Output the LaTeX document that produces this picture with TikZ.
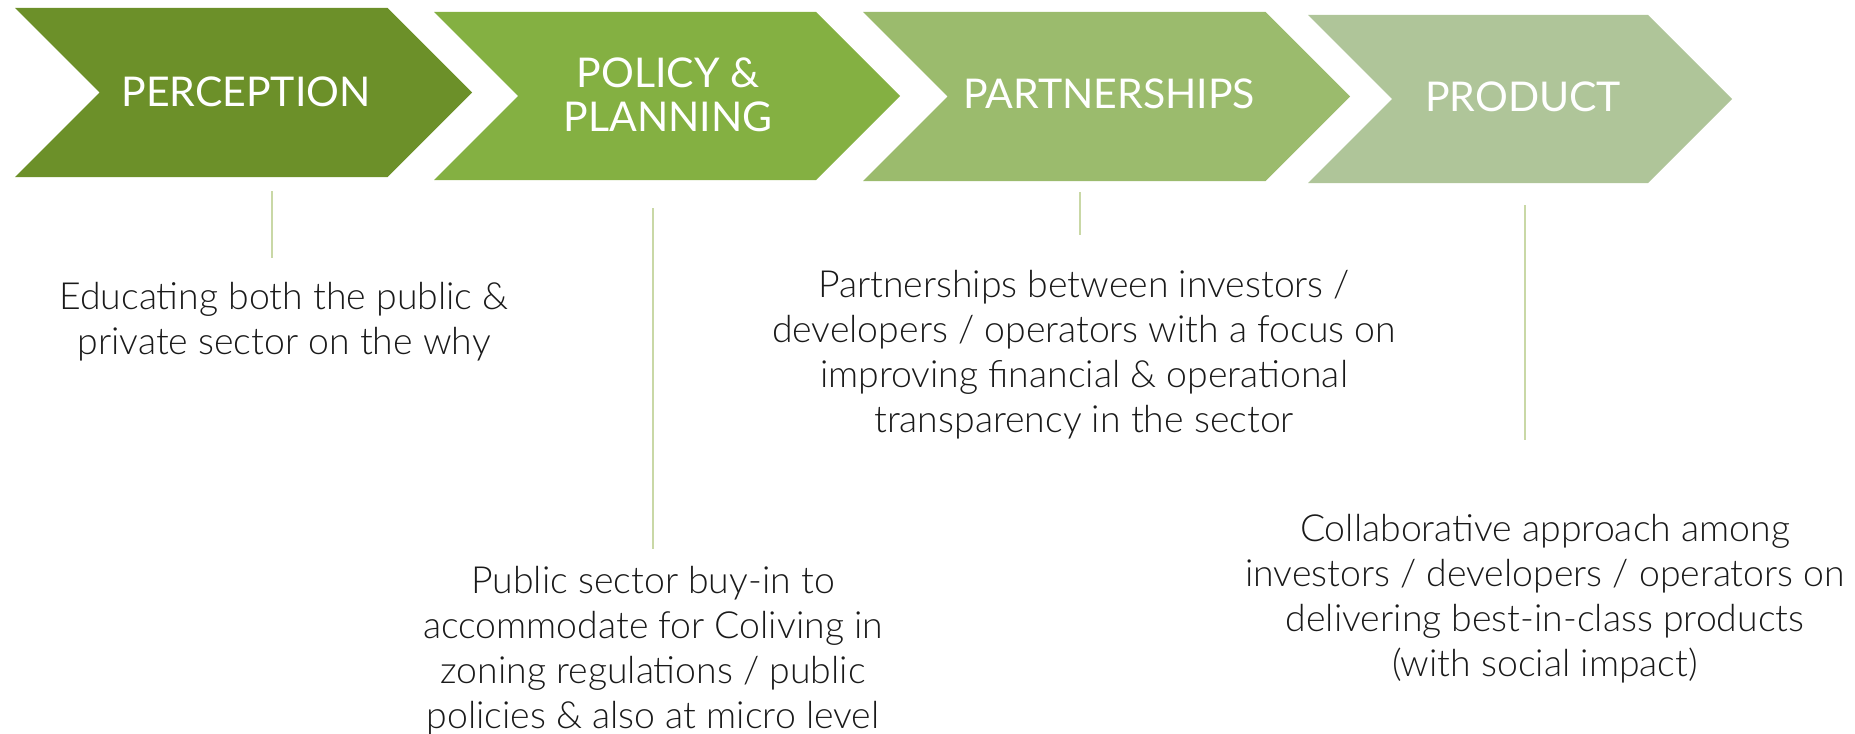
\documentclass[tikz,border=0pt]{standalone}
\usepackage{fontspec}
\setmainfont{Lato}
\newfontfamily\notefont{Lato Light}
\usetikzlibrary{positioning}

\definecolor{perceptionGreen}{HTML}{6C9029}
\definecolor{policyGreen}{HTML}{84B042}
\definecolor{partnerGreen}{HTML}{9BBB6D}
\definecolor{productGreen}{HTML}{AFC599}
\definecolor{leaderGreen}{HTML}{C9D8A6}
\definecolor{noteText}{HTML}{1A1A1A}

\begin{document}
\begin{tikzpicture}[
    x=0.5pt, y=-0.5pt,
    heading/.style={text=white, font=\fontsize{20.5}{22}\selectfont, align=center},
    note/.style={text=noteText, font=\notefont\fontsize{18.7}{22.5}\selectfont, align=center},
    leader/.style={draw=leaderGreen, line width=1pt}
]
    \useasboundingbox (0,0) rectangle (1855,733);

    % Chevrons of the four stages
    \foreach \l/\t/\b/\tip/\col in {15/8/177/472/perceptionGreen, 434/12/180/900/policyGreen,
                                     863/12/181/1350/partnerGreen, 1308/15/183/1732/productGreen} {
        \fill[\col] (\l,\t) -- ({\tip-(\b-\t)/2},\t) -- (\tip,{(\t+\b)/2}) -- ({\tip-(\b-\t)/2},\b)
            -- (\l,\b) -- ({\l+(\b-\t)/2},{(\t+\b)/2}) -- cycle;
    }

    % Stage headings
    \node[heading] (perception) at (246,92) {PERCEPTION};
    \node[heading] (policy) at (668,95) {POLICY \&\\PLANNING};
    \node[heading] (partnerships) at (1109,94) {PARTNERSHIPS};
    \node[heading] (product) at (1523,97) {PRODUCT};

    % Notes under each stage
    \node[note] (educating) at (284,322) {Educating both the public \&\\private sector on the why};
    \node[note] (buyin) at (653,651) {Public sector buy-in to\\accommodate for Coliving in\\zoning regulations / public\\policies \& also at micro level};
    \node[note] (transparency) at (1084,355) {Partnerships between investors /\\developers / operators with a focus on\\improving financial \& operational\\transparency in the sector};
    \node[note] (collab) at (1545,599) {Collaborative approach among\\investors / developers / operators on\\delivering best-in-class products\\(with social impact)};

    % Leader lines
    \coordinate (perception-top) at (272,191);
    \coordinate (perception-end) at (272,258);
    \coordinate (policy-top) at (653,208);
    \coordinate (policy-end) at (653,549);
    \coordinate (partner-top) at (1080,192);
    \coordinate (partner-end) at (1080,235);
    \coordinate (product-top) at (1525,205);
    \coordinate (product-end) at (1525,440);
    \draw[leader] (perception-top) -- (perception-end);
    \draw[leader] (policy-top) -- (policy-end);
    \draw[leader] (partner-top) -- (partner-end);
    \draw[leader] (product-top) -- (product-end);
\end{tikzpicture}
\end{document}
